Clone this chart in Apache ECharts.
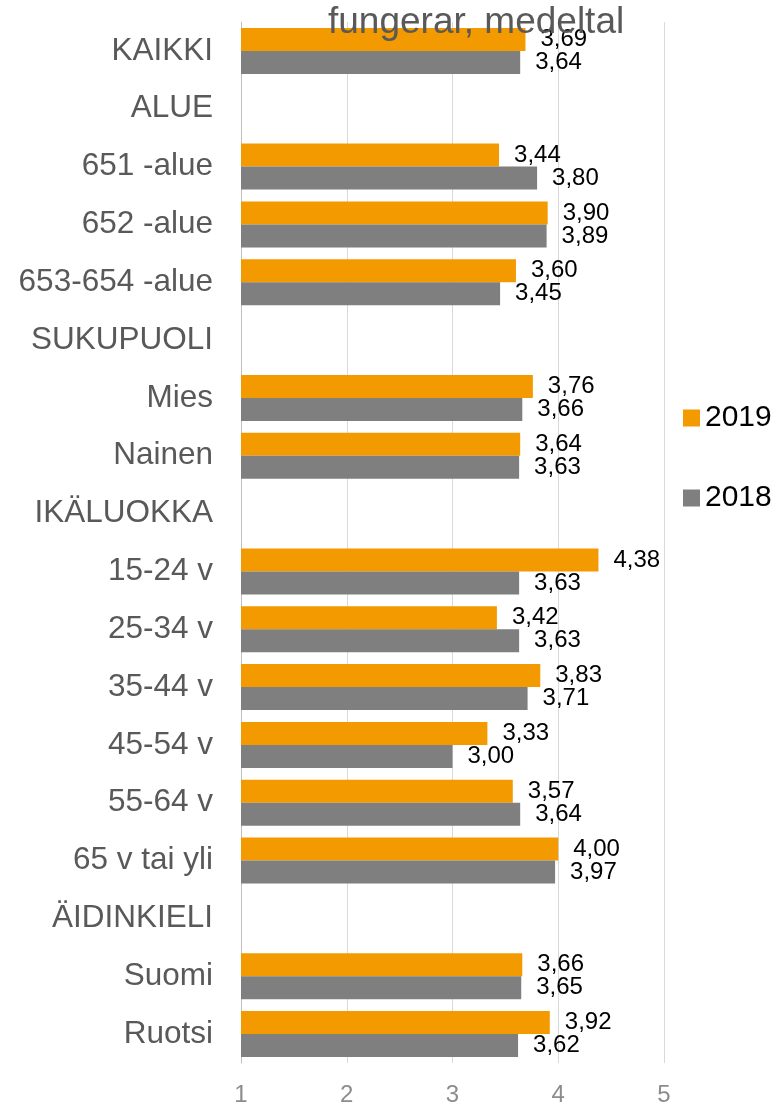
<!doctype html>
<html lang="fi">
  <head>
    <meta charset="UTF-8" />
    <title>fungerar, medeltal</title>
    <script src="https://cdn.jsdelivr.net/npm/echarts@6/dist/echarts.min.js"></script>
    <style>
      html, body { margin: 0; padding: 0; background: #fff; }
      #chart { width: 782px; height: 1105px; }
    </style>
  </head>
  <body>
    <div id="chart"></div>
    <script>
      // categories top to bottom, header rows have no values
      const categories = [
        'KAIKKI', 'ALUE', '651 -alue', '652 -alue', '653-654 -alue',
        'SUKUPUOLI', 'Mies', 'Nainen', 'IKÄLUOKKA', '15-24 v', '25-34 v',
        '35-44 v', '45-54 v', '55-64 v', '65 v tai yli', 'ÄIDINKIELI',
        'Suomi', 'Ruotsi'
      ];
      const values2019 = [
        3.69, null, 3.44, 3.90, 3.60, null, 3.76, 3.64, null, 4.38, 3.42,
        3.83, 3.33, 3.57, 4.00, null, 3.66, 3.92
      ];
      const values2018 = [
        3.64, null, 3.80, 3.89, 3.45, null, 3.66, 3.63, null, 3.63, 3.63,
        3.71, 3.00, 3.64, 3.97, null, 3.65, 3.62
      ];
      const xTicks = [1, 2, 3, 4, 5];

      const font = 'Liberation Sans, Arial, sans-serif';
      const fmt = (p) => (p.value == null ? '' : p.value.toFixed(2).replace('.', ','));

      const barLabel = {
        show: true,
        position: 'right',
        distance: 15,
        fontSize: 24,
        color: '#000',
        fontFamily: font,
        padding: [3, 0, 0, 0],
        formatter: fmt
      };

      const chart = echarts.init(document.getElementById('chart'));
      chart.setOption({
        animation: false,
        textStyle: { fontFamily: font },
        graphic: [
          {
            type: 'text',
            left: 328,
            top: 4,
            z: 100,
            style: {
              text: 'fungerar, medeltal',
              font: '37px ' + font,
              fill: '#595959'
            }
          }
        ],
        legend: {
          orient: 'vertical',
          left: 678,
          top: 398,
          itemWidth: 17,
          itemHeight: 17,
          itemGap: 50,
          icon: 'rect',
          textStyle: { fontSize: 30, color: '#000', fontFamily: font },
          data: ['2019', '2018']
        },
        grid: {
          left: 241,
          right: 118,
          top: 22,
          bottom: 42,
          outerBoundsMode: 'none'
        },
        xAxis: {
          type: 'value',
          min: xTicks[0],
          max: xTicks[xTicks.length - 1],
          interval: 1,
          axisLine: { show: false },
          axisTick: { show: false },
          axisLabel: { fontSize: 24, color: '#8c8c8c', margin: 20, fontFamily: font },
          splitLine: { lineStyle: { color: '#d9d9d9', width: 1 } }
        },
        yAxis: {
          type: 'category',
          data: categories,
          inverse: true,
          axisLine: { lineStyle: { color: '#bfbfbf', width: 1 } },
          axisTick: { show: false },
          axisLabel: {
            fontSize: 31.5,
            color: '#595959',
            margin: 28,
            padding: [4, 0, 0, 0],
            fontFamily: font
          }
        },
        series: [
          {
            name: '2019',
            type: 'bar',
            data: values2019,
            barWidth: 23,
            barGap: '0%',
            itemStyle: { color: '#f39a00' },
            label: barLabel
          },
          {
            name: '2018',
            type: 'bar',
            data: values2018,
            barWidth: 23,
            barGap: '0%',
            itemStyle: { color: '#7f7f7f' },
            label: barLabel
          }
        ]
      });
    </script>
  </body>
</html>
